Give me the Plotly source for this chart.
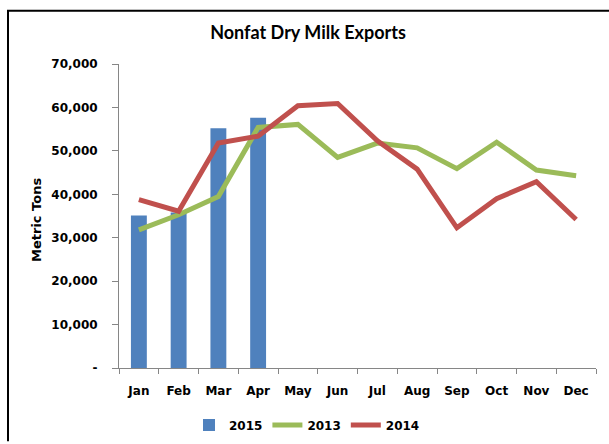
import plotly.graph_objects as go

months = ["Jan", "Feb", "Mar", "Apr", "May", "Jun", "Jul", "Aug", "Sep", "Oct", "Nov", "Dec"]
exports_2015 = [35100, 35800, 55200, 57600]
exports_2013 = [31800, 35300, 39500, 55400, 56100, 48500, 51800, 50700, 45900, 52000, 45600, 44300]
exports_2014 = [38800, 36100, 51800, 53400, 60400, 60900, 52300, 45800, 32300, 39000, 42900, 34200]
ytick_vals = [0, 10000, 20000, 30000, 40000, 50000, 60000, 70000]
ytick_text = ["-", "10,000", "20,000", "30,000", "40,000", "50,000", "60,000", "70,000"]

W, H = 609, 444
ML, MR, MT, MB = 119, 13, 64, 72
PW, PH = W - ML - MR, H - MT - MB

def px_x(X):
    return (X - ML) / PW

def px_y(Y):
    return (H - MB - Y) / PH

tick_font = dict(family="DejaVu Sans", size=12, color="#000000")

fig = go.Figure()
fig.add_trace(go.Bar(x=months[:len(exports_2015)], y=exports_2015, name="<b>2015</b>",
                     marker=dict(color="#4F81BD", line=dict(width=0))))
fig.add_trace(go.Scatter(x=months, y=exports_2013, name="<b>2013</b>", mode="lines",
                         line=dict(color="#9BBB59", width=5)))
fig.add_trace(go.Scatter(x=months, y=exports_2014, name="<b>2014</b>", mode="lines",
                         line=dict(color="#C0504D", width=5)))

fig.update_layout(
    width=W, height=H,
    margin=dict(l=ML, r=MR, t=MT, b=MB),
    paper_bgcolor="white", plot_bgcolor="white",
    bargap=0.6,
    title=dict(text="<b>Nonfat Dry Milk Exports</b>", xref="container", x=308 / W,
               xanchor="center", yref="container", y=1 - 33 / H, yanchor="middle",
               font=dict(family="Lato", size=18, color="#000000")),
    showlegend=True,
    legend=dict(orientation="h", xref="container", yref="container",
                x=307 / W, xanchor="center", y=1 - 425 / H, yanchor="middle",
                font=dict(family="DejaVu Sans", size=12, color="#000000"),
                traceorder="normal", itemwidth=30),
    xaxis=dict(type="category", categoryorder="array", categoryarray=months,
               range=[-0.5, 11.5],
               showline=True, linecolor="#868686", linewidth=1,
               ticks="outside", tickson="boundaries", ticklen=5, tickcolor="#868686",
               showgrid=False, zeroline=False,
               tickfont=tick_font, ticklabelstandoff=12,
               tickvals=months, ticktext=["<b>%s</b>" % m for m in months]),
    yaxis=dict(range=[0, 70000], tickvals=ytick_vals,
               ticktext=["<b>%s</b>" % t for t in ytick_text],
               showline=True, linecolor="#868686", linewidth=1,
               ticks="outside", ticklen=6, tickcolor="#868686",
               showgrid=False, zeroline=False,
               tickfont=tick_font, ticklabelstandoff=12),
)

fig.add_annotation(text="<b>Metric Tons</b>", textangle=-90,
                   xref="paper", yref="paper", x=px_x(37), y=px_y(222),
                   xanchor="center", yanchor="middle", showarrow=False,
                   font=dict(family="DejaVu Sans", size=13, color="#000000"))

# outer frame (top and left edges visible)
fig.add_shape(type="path", xref="paper", yref="paper",
              path="M %f %f L %f %f L %f %f" % (px_x(8), px_y(446), px_x(8), px_y(10),
                                                 px_x(612), px_y(10)),
              line=dict(color="#000000", width=2))

fig.write_html("out.html", config={"displayModeBar": False},
               post_script="document.body.style.margin='0';document.body.style.overflow='hidden';")
